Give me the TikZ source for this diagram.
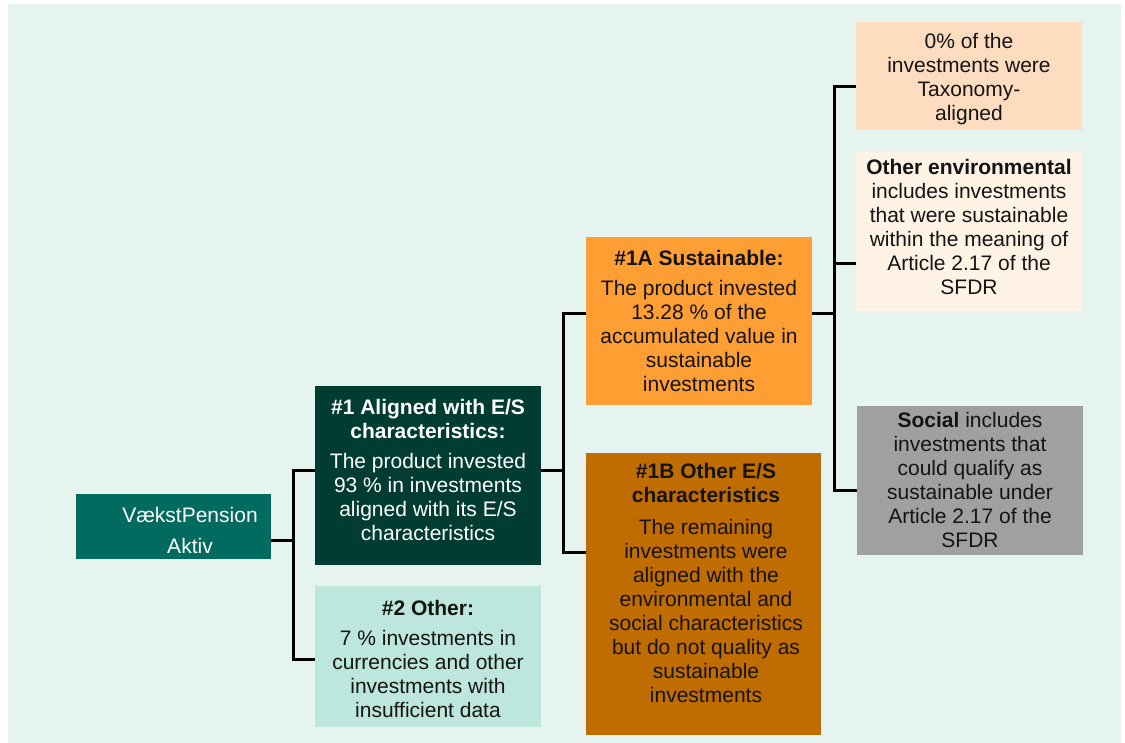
\documentclass[tikz,border=0pt]{standalone}
\usepackage{fontspec}
\setmainfont{Liberation Sans}
\definecolor{bgmint}{HTML}{E5F4EF}
\definecolor{vpteal}{HTML}{006B5E}
\definecolor{darkgreen}{HTML}{003C32}
\definecolor{palemint}{HTML}{BDE6DC}
\definecolor{orangeA}{HTML}{FF9E33}
\definecolor{orangeB}{HTML}{BF6C00}
\definecolor{peach}{HTML}{FDDCBF}
\definecolor{cream}{HTML}{FEF3E5}
\definecolor{greybox}{HTML}{A0A0A0}
\definecolor{inkdark}{HTML}{141414}
\tikzset{
  box/.style={rectangle, inner sep=0pt, outer sep=0pt, draw=none},
  txt/.style={align=center, inner sep=0pt, font=\fontsize{21}{24}\selectfont},
  conn/.style={line width=3pt, black, line join=miter},
}
\begin{document}
\begin{tikzpicture}[x=1pt,y=-1pt]
\useasboundingbox (0,0) rectangle (1125,743);
\fill[bgmint] (8,4) rectangle (1121,743);
% boxes
\node[box, fill=vpteal, minimum width=195pt, minimum height=65pt] (vp) at (173.5,526.5) {};
\node[box, fill=darkgreen, minimum width=226pt, minimum height=179pt] (a1) at (428,475.5) {};
\node[box, fill=palemint, minimum width=226pt, minimum height=141pt] (o2) at (428,656.5) {};
\node[box, fill=orangeA, minimum width=226pt, minimum height=168pt] (s1a) at (699,321) {};
\node[box, fill=orangeB, minimum width=235pt, minimum height=282pt] (o1b) at (703.5,594) {};
\node[box, fill=peach, minimum width=226pt, minimum height=108pt] (tax) at (969,76) {};
\node[box, fill=cream, minimum width=226pt, minimum height=159pt] (env) at (969,231.5) {};
\node[box, fill=greybox, minimum width=226pt, minimum height=149pt] (soc) at (970,480.5) {};
% texts
\node[txt, white, font=\fontsize{21}{31}\selectfont] (tvp) at (190,530) {VækstPension\\Aktiv};
\node[txt, white] (ta1) at (428,469.5) {\textbf{\#1 Aligned with E/S}\\\textbf{characteristics:}\\[6pt]The product invested\\93 \% in investments\\aligned with its E/S\\characteristics};
\node[txt, inkdark] (to2) at (428,658.5) {\textbf{\#2 Other:}\\[6pt]7 \% investments in\\currencies and other\\investments with\\insufficient data};
\node[txt, inkdark] (ts1a) at (699,320.5) {\textbf{\#1A Sustainable:}\\[6pt]The product invested\\13.28 \% of the\\accumulated value in\\sustainable\\investments};
\node[txt, inkdark] (to1b) at (706,583) {\textbf{\#1B Other E/S}\\\textbf{characteristics}\\[8pt]The remaining\\investments were\\aligned with the\\environmental and\\social characteristics\\but do not quality as\\sustainable\\investments};
\node[txt, inkdark] (ttax) at (969,79.5) {0\% of the\\investments were\\Taxonomy-\\aligned};
\node[txt, inkdark] (tenv) at (969,226.5) {\textbf{Other environmental}\\includes investments\\that were sustainable\\within the meaning of\\Article 2.17 of the\\SFDR};
\node[txt, inkdark] (tsoc) at (970,479.5) {\textbf{Social} includes\\investments that\\could qualify as\\sustainable under\\Article 2.17 of the\\SFDR};
% connectors
\coordinate (j1) at (293,540);
\coordinate (j2) at (563,470);
\coordinate (j3) at (834,314);
\draw[conn] (vp.east |- j1) -- (j1);
\draw[conn] (a1.west |- 0,470) -| (j1) |- (o2.west |- 0,659);
\draw[conn] (a1.east |- j2) -- (j2);
\draw[conn] (s1a.west |- 0,314) -| (j2) |- (o1b.west |- 0,552);
\draw[conn] (s1a.east |- j3) -- (j3);
\draw[conn] (tax.west |- 0,87) -| (j3) |- (soc.west |- 0,490);
\draw[conn] (j3 |- 0,264) -- (env.west |- 0,264);
\end{tikzpicture}
\end{document}
